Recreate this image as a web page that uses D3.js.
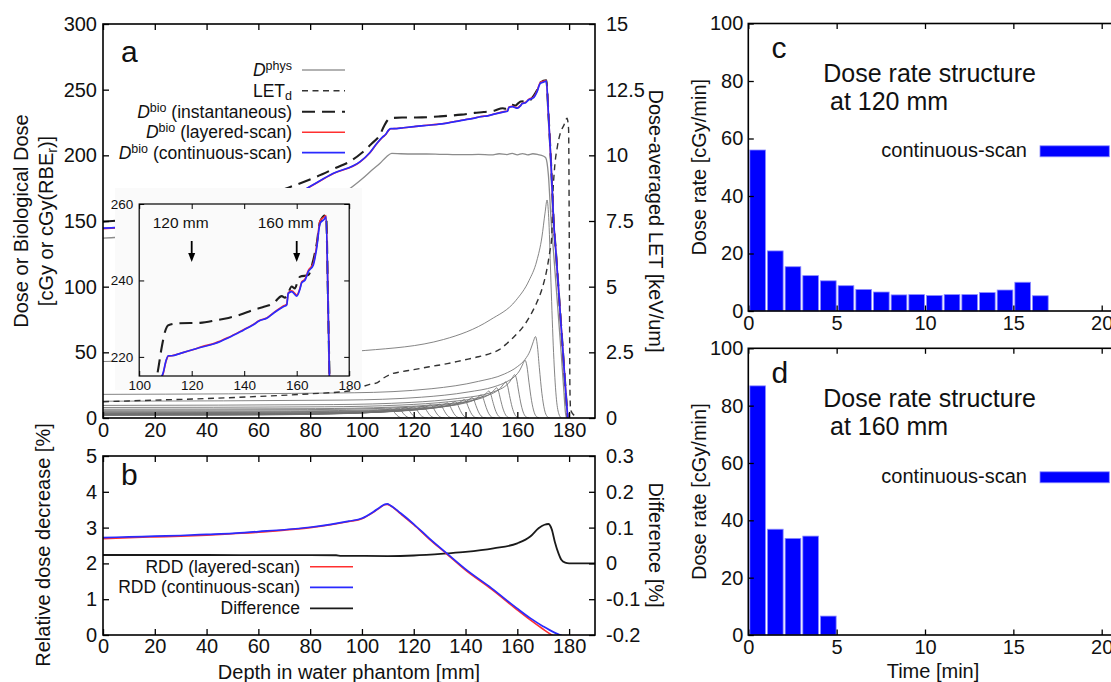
<!DOCTYPE html>
<html><head><meta charset="utf-8">
<script src="https://cdn.jsdelivr.net/npm/d3@7"></script>
<style>
html,body{margin:0;padding:0;background:#fff;}
svg text{font-family:"Liberation Sans",Arial,Helvetica,sans-serif;fill:#111;}
</style></head><body>
<svg id="fig" width="1111" height="682"></svg>
<script>
// ---------- tick values ----------
const depthTicks = [0,20,40,60,80,100,120,140,160,180];
const doseTicks = [0,50,100,150,200,250,300];
const letTicks = [0,2.5,5,7.5,10,12.5,15];
const rddTicks = [0,1,2,3,4,5];
const diffTicks = [-0.2,-0.1,0,0.1,0.2,0.3];
const insetDepthTicks = [100,120,140,160,180];
const insetDoseTicks = [220,240,260];
const rateTicks = [0,20,40,60,80,100];
const timeTicks = [0,5,10,15,20];

// ---------- panel a: depth-dose curves [depth mm, value] ----------
const physDose = [[0,137],[10,138],[20,139.5],[30,141],[40,143],[50,146],[60,150],[70,154.5],[80,160.5],[90,168.5],[95.5,175],[100,182],[104,189],[107,194],[109.5,199],[111.5,201.5],[115,201.2],[120,201],[125,201],[130,200.8],[135,200.6],[140,200.5],[145,200.7],[150,200.4],[153,201.2],[156,200.6],[158,201.5],[160,200.4],[162,201.3],[164,200.4],[166,201.2],[168,200.6],[170,199.5],[171,198],[172,185],[173,152],[174,126],[175,100],[176,74],[177,48],[178,20],[178.6,4],[179,0]];

const letD = [[0,0.62],[20,0.68],[40,0.74],[60,0.82],[80,0.92],[95,1.03],[103,1.28],[106,1.35],[108,1.5],[111.5,1.68],[115,1.76],[120,1.84],[126,1.95],[133,2.07],[139,2.2],[145,2.33],[150,2.47],[153,2.6],[156,2.84],[159,3.12],[162.3,3.48],[165,3.9],[167.4,4.37],[169.5,4.9],[171.3,5.6],[172.5,6.3],[173.3,6.9],[173.7,8.4],[174.3,9.4],[175.5,10.35],[176.6,10.84],[178,11.15],[179.2,11.41],[179.8,11.0],[180.1,6],[180.3,1.2],[180.6,0.3],[182,0.1]];

const bioInstant = [[0,149.5],[10,151],[20,153],[30,155.5],[40,158.5],[50,162.5],[60,167.5],[71,175],[82.6,183.8],[90,190.5],[95.5,195.5],[100,202],[103.9,209.2],[106.9,215.5],[108.6,222.6],[109.8,226.5],[111.1,228.3],[115.5,228.8],[123.2,228.9],[129.5,229.6],[134,230.2],[138.4,231],[143.5,232.3],[147,233],[151.1,234],[154.3,235.9],[155.5,235.5],[156.3,236],[158.1,238.4],[159.3,237.9],[160.3,239.6],[161.3,241],[164.4,241.4],[166.3,245.3],[167.6,249.5],[168.9,255.4],[171.2,257.1],[172,232],[173,195],[174,151],[175,124],[176,96],[177,68],[178,40],[179,12],[179.5,0]];

const bioLayered = [[0,144.2],[10,145.3],[20,146.8],[30,148.8],[40,151.3],[50,154.8],[60,159.3],[70,165.8],[78.8,174.8],[89,186.1],[99.3,195],[103,201.8],[105.8,209],[108,213.8],[109.2,215.8],[110.2,218.8],[111.1,220.2],[112.4,220.3],[116,221],[120,221.8],[124,222.7],[128.9,223.6],[134,225.1],[139.7,227.1],[143,228.3],[146,229.6],[148.6,230.2],[151.5,231.7],[154.9,233.3],[156.2,233.8],[156.8,236.8],[158.1,237.3],[160,236.2],[161.3,238.1],[161.9,239.6],[163.2,240.4],[164.4,242.6],[166.3,244.4],[167.6,249],[168.9,255.6],[170.5,256.6],[171.2,257],[172,232],[173,195],[174,151],[175,124],[176,96],[177,68],[178,40],[179,12],[179.5,0]];

const bioContinuous = [[0,144.5],[10,145.5],[20,147],[30,149],[40,151.5],[50,155],[60,159.5],[70,166],[78.8,175],[89,186.3],[99.3,195.2],[103,202],[105.8,209.2],[108,214],[109.2,216],[110.2,219],[111.1,220.3],[112.4,220.3],[116,221],[120,221.8],[124,222.6],[128.9,223.5],[134,225],[139.7,227],[143,228.2],[146,229.5],[148.6,230.1],[151.5,231.6],[154.9,233.1],[156.2,233.6],[156.8,236.6],[158.1,237.1],[160,235.9],[161.3,237.9],[161.9,239.4],[163.2,240.1],[164.4,242.3],[166.3,244],[167.6,248.4],[168.9,254.9],[170.5,256],[171.2,256.7],[172,232],[173,195],[174,151],[175,124],[176,96],[177,68],[178,40],[179,12],[179.5,0]];

// pristine Bragg peaks of the energy layers: range (mm), peak dose, entrance dose
const layerRange = [111,114,117,120,123.5,126.5,130,133,136,139.5,142.5,146,149,152,155.5,159,163,167,171.5];
const layerPeak = [7,7.5,8,8.5,9,10,10.5,11.5,12.5,14,15.5,17.5,20.5,23,27.5,33,44,62,166];
const layerEntrance = [2.0,2.2,2.3,2.5,2.6,2.9,3.0,3.3,3.6,4.0,4.5,5.1,5.9,6.7,8.0,9.6,12.8,18,43];
// Bragg-peak profile: [offset from range (mm), fraction of peak dose]
const braggShape = [[-70,0.31],[-40,0.36],[-22,0.45],[-12,0.54],[-7,0.63],[-4,0.72],[-2,0.83],[-0.8,0.94],[0,1],[0.7,0.9],[1.5,0.62],[2.5,0.3],[3.5,0.1],[4.5,0.02],[5.5,0]];

// ---------- panel b: relative dose decrease ----------
const rddLayered = [[0,2.69],[10,2.72],[20,2.74],[30,2.76],[40,2.79],[50,2.83],[60,2.87],[70,2.93],[80,3.0],[88,3.08],[95,3.17],[100,3.25],[104.4,3.43],[107,3.56],[108.8,3.64],[109.8,3.65],[111,3.61],[115,3.38],[120,3.08],[126,2.68],[132.8,2.26],[140,1.81],[150,1.28],[159.8,0.71],[165,0.42],[170,0.16],[173.3,0],[177,-0.15]];
const rddContinuous = [[0,2.72],[10,2.74],[20,2.76],[30,2.78],[40,2.81],[50,2.84],[60,2.89],[70,2.94],[80,3.01],[88,3.09],[95,3.18],[100,3.26],[104.4,3.44],[107,3.57],[108.8,3.65],[109.8,3.66],[111,3.62],[115,3.4],[120,3.1],[126,2.7],[132.8,2.28],[140,1.84],[150,1.31],[159.8,0.75],[165,0.47],[170,0.24],[174,0.08],[176.6,0],[180,-0.1]];
const rddDifference = [[0,0.0235],[20,0.0235],[40,0.0235],[60,0.0233],[80,0.0232],[90,0.0228],[92,0.021],[100,0.0208],[110,0.0205],[120,0.022],[133,0.028],[140,0.032],[150.8,0.042],[160,0.056],[165,0.075],[168.2,0.098],[170.5,0.108],[172,0.11],[173.3,0.095],[174.5,0.06],[175.9,0.028],[177,0.01],[178.5,0.002],[180,0],[190,0]];

// ---------- panels c, d: dose-rate histograms (1-min bins) ----------
const rateAt120 = [56.0,20.9,15.4,12.3,10.5,8.8,7.5,6.6,5.6,5.7,5.4,5.7,5.7,6.4,7.3,10.0,5.3];
const rateAt160 = [86.9,36.9,33.7,34.5,6.6];

// ================= drawing =================
const svg = d3.select("#fig");
const FONT = 20;
const plain = d => String(d);

function styleAxis(sel, fs) {
  sel.attr("font-size", fs).attr("font-family", null);
  sel.select(".domain").remove();
  sel.selectAll(".tick line").attr("stroke", "#000").attr("stroke-width", 1.3);
  sel.selectAll(".tick text").attr("fill", "#111");
  return sel;
}
function box(g, x0, y0, x1, y1, w) {
  g.append("rect").attr("x", x0).attr("y", y0).attr("width", x1 - x0).attr("height", y1 - y0)
    .attr("fill", "none").attr("stroke", "#000").attr("stroke-width", w || 1.6);
}
function clip(id, x0, y0, x1, y1) {
  svg.append("clipPath").attr("id", id).append("rect")
    .attr("x", x0).attr("y", y0).attr("width", x1 - x0).attr("height", y1 - y0);
}
function path(g, data, line, stroke, width, dash) {
  const p = g.append("path").datum(data).attr("d", line).attr("fill", "none")
    .attr("stroke", stroke).attr("stroke-width", width).attr("stroke-linejoin", "round");
  if (dash) p.attr("stroke-dasharray", dash);
  return p;
}

// ---------- panel a ----------
const xA = d3.scaleLinear().domain([0, 190]).range([103, 595]);
const yA = d3.scaleLinear().domain([0, 300]).range([418, 24]);
const yA2 = d3.scaleLinear().domain([0, 15]).range([418, 24]);
clip("clipA", 103, 24, 595, 418);

const gA = svg.append("g");
const plotA = gA.append("g").attr("clip-path", "url(#clipA)");
const lineDose = d3.line().x(d => xA(d[0])).y(d => yA(d[1])).curve(d3.curveMonotoneX);
const lineLet = d3.line().x(d => xA(d[0])).y(d => yA2(d[1])).curve(d3.curveMonotoneX);

const layerCurves = layerRange.map((R, i) =>
  [[0, layerEntrance[i]]].concat(braggShape.filter(s => R + s[0] > 0).map(s => [R + s[0], s[1] * layerPeak[i]])));
layerCurves.forEach(c => path(plotA, c, lineDose, "#6f6f6f", 0.85));
path(plotA, physDose, lineDose, "#8c8c8c", 1.3);
path(plotA, letD, lineLet, "#333", 1.4, "6,4.5");
path(plotA, bioInstant, lineDose, "#1e1e1e", 2.1, "13,7");
path(plotA, bioLayered, lineDose, "#ff3030", 1.6);
path(plotA, bioContinuous, lineDose, "#2a2aff", 1.7);

// inset panel (zoom on the SOBP region)
gA.append("rect").attr("x", 115).attr("y", 188).attr("width", 247).attr("height", 202).attr("fill", "#fafafa");
const xI = d3.scaleLinear().domain([100, 180]).range([139.2, 349.2]);
const yI = d3.scaleLinear().domain([215, 260]).range([376, 204]);
clip("clipI", 139.2, 204, 349.2, 376);
const gI = gA.append("g");
const plotI = gI.append("g").attr("clip-path", "url(#clipI)");
const lineInset = d3.line().x(d => xI(d[0])).y(d => yI(d[1])).curve(d3.curveMonotoneX);
path(plotI, bioInstant, lineInset, "#1e1e1e", 2.1, "13,7");
path(plotI, bioLayered, lineInset, "#ff3030", 1.6);
path(plotI, bioContinuous, lineInset, "#2a2aff", 1.7);
box(gI, 139.2, 204, 349.2, 376, 1.2);
styleAxis(gI.append("g").attr("transform", "translate(139.2,0)")
  .call(d3.axisLeft(yI).tickValues(insetDoseTicks).tickSizeInner(-5).tickSizeOuter(0).tickPadding(6).tickFormat(plain)), 13.5);
styleAxis(gI.append("g").attr("transform", "translate(349.2,0)")
  .call(d3.axisRight(yI).tickValues(insetDoseTicks).tickSizeInner(-5).tickSizeOuter(0).tickFormat("")), 13.5);
styleAxis(gI.append("g").attr("transform", "translate(0,376)")
  .call(d3.axisBottom(xI).tickValues(insetDepthTicks).tickSizeInner(-5).tickSizeOuter(0).tickPadding(4).tickFormat(plain)), 13.5);
styleAxis(gI.append("g").attr("transform", "translate(0,204)")
  .call(d3.axisTop(xI).tickValues(insetDepthTicks).tickSizeInner(-5).tickSizeOuter(0).tickFormat("")), 13.5);
gI.selectAll(".tick line").attr("stroke-width", 1);

// depth markers in the inset
[120, 160].forEach(dep => {
  const x = xI(dep);
  gI.append("text").attr("x", x - 11).attr("y", 228).attr("text-anchor", "middle")
    .attr("font-size", 15.5).text(dep + " mm");
  gI.append("line").attr("x1", x).attr("x2", x).attr("y1", 241).attr("y2", 255)
    .attr("stroke", "#000").attr("stroke-width", 1.8);
  gI.append("path").attr("d", `M${x - 3.5},${253}L${x + 3.5},${253}L${x},${262}Z`).attr("fill", "#000");
});

// frame and axes of panel a
box(gA, 103, 24, 595, 418);
styleAxis(gA.append("g").attr("transform", "translate(103,0)")
  .call(d3.axisLeft(yA).tickValues(doseTicks).tickSizeInner(-6).tickSizeOuter(0).tickPadding(6).tickFormat(plain)), FONT);
styleAxis(gA.append("g").attr("transform", "translate(595,0)")
  .call(d3.axisRight(yA2).tickValues(letTicks).tickSizeInner(-6).tickSizeOuter(0).tickPadding(11).tickFormat(plain)), FONT);
styleAxis(gA.append("g").attr("transform", "translate(0,418)")
  .call(d3.axisBottom(xA).tickValues(depthTicks).tickSizeInner(-6).tickSizeOuter(0).tickPadding(5).tickFormat(plain)), FONT);
styleAxis(gA.append("g").attr("transform", "translate(0,24)")
  .call(d3.axisTop(xA).tickValues(depthTicks).tickSizeInner(-6).tickSizeOuter(0).tickFormat("")), FONT);

gA.append("text").attr("x", 121).attr("y", 62).attr("font-size", 30).text("a");

// legend of panel a
const legA = gA.append("g");
const legRows = [
  {cy: 70, stroke: "#999", w: 1.3, dash: null},
  {cy: 90.7, stroke: "#333", w: 1.4, dash: "6,4.5"},
  {cy: 111.7, stroke: "#1e1e1e", w: 2.1, dash: "13,7"},
  {cy: 132.3, stroke: "#ff3030", w: 1.6, dash: null},
  {cy: 152.7, stroke: "#2a2aff", w: 1.7, dash: null}
];
legRows.forEach(r => {
  const l = legA.append("line").attr("x1", 302).attr("x2", 345).attr("y1", r.cy).attr("y2", r.cy)
    .attr("stroke", r.stroke).attr("stroke-width", r.w);
  if (r.dash) l.attr("stroke-dasharray", r.dash);
});
function bioLabel(y, suffix, sup) {
  const t = legA.append("text").attr("x", 292).attr("y", y).attr("text-anchor", "end").attr("font-size", 17.5);
  t.append("tspan").attr("font-style", "italic").text("D");
  t.append("tspan").attr("font-size", 12.5).attr("dy", -6).text(sup);
  if (suffix) t.append("tspan").attr("dy", 6).text(suffix);
}
bioLabel(76, null, "phys");
{
  const t = legA.append("text").attr("x", 292).attr("y", 96.5).attr("text-anchor", "end").attr("font-size", 17.5);
  t.append("tspan").text("LET");
  t.append("tspan").attr("font-size", 12.5).attr("dy", 3.5).text("d");
}
bioLabel(117.7, " (instantaneous)", "bio");
bioLabel(138.3, " (layered-scan)", "bio");
bioLabel(158.7, " (continuous-scan)", "bio");

// axis titles of panel a
{
  gA.append("text").attr("transform", "translate(28,221) rotate(-90)").attr("text-anchor", "middle")
    .attr("font-size", FONT).text("Dose or Biological Dose");
  const t2 = gA.append("text").attr("transform", "translate(53,221) rotate(-90)").attr("text-anchor", "middle").attr("font-size", FONT);
  t2.append("tspan").text("[cGy or cGy(RBE");
  t2.append("tspan").attr("font-size", 14).attr("dy", 4).text("r");
  t2.append("tspan").attr("dy", -4).text(")]");
  gA.append("text").attr("transform", "translate(649,221) rotate(90)").attr("text-anchor", "middle")
    .attr("font-size", FONT).text("Dose-averaged LET [keV/um]");
}

// ---------- panel b ----------
const yB = d3.scaleLinear().domain([0, 5]).range([635, 456]);
const yB2 = d3.scaleLinear().domain([-0.2, 0.3]).range([635, 456]);
clip("clipB", 103, 456, 595, 635);
const gB = svg.append("g");
const plotB = gB.append("g").attr("clip-path", "url(#clipB)");
const lineRdd = d3.line().x(d => xA(d[0])).y(d => yB(d[1])).curve(d3.curveMonotoneX);
const lineDiff = d3.line().x(d => xA(d[0])).y(d => yB2(d[1])).curve(d3.curveMonotoneX);
path(plotB, rddDifference, lineDiff, "#1a1a1a", 1.8);
path(plotB, rddLayered, lineRdd, "#ff3030", 1.6);
path(plotB, rddContinuous, lineRdd, "#2a2aff", 1.7);

box(gB, 103, 456, 595, 635);
styleAxis(gB.append("g").attr("transform", "translate(103,0)")
  .call(d3.axisLeft(yB).tickValues(rddTicks).tickSizeInner(-6).tickSizeOuter(0).tickPadding(6).tickFormat(plain)), FONT);
styleAxis(gB.append("g").attr("transform", "translate(595,0)")
  .call(d3.axisRight(yB2).tickValues(diffTicks).tickSizeInner(-6).tickSizeOuter(0).tickPadding(11)
    .tickFormat(d => Math.abs(d) < 1e-9 ? "0" : d.toFixed(1))), FONT);
styleAxis(gB.append("g").attr("transform", "translate(0,635)")
  .call(d3.axisBottom(xA).tickValues(depthTicks).tickSizeInner(-6).tickSizeOuter(0).tickPadding(4).tickFormat(plain)), FONT);
styleAxis(gB.append("g").attr("transform", "translate(0,456)")
  .call(d3.axisTop(xA).tickValues(depthTicks).tickSizeInner(-6).tickSizeOuter(0).tickFormat("")), FONT);

gB.append("text").attr("x", 121).attr("y", 485).attr("font-size", 30).text("b");
const legB = [
  {cy: 566.7, label: "RDD (layered-scan)", stroke: "#ff3030", w: 1.6},
  {cy: 587.3, label: "RDD (continuous-scan)", stroke: "#2a2aff", w: 1.7},
  {cy: 608.3, label: "Difference", stroke: "#1a1a1a", w: 1.8}
];
legB.forEach(r => {
  gB.append("line").attr("x1", 310).attr("x2", 353).attr("y1", r.cy).attr("y2", r.cy)
    .attr("stroke", r.stroke).attr("stroke-width", r.w);
  gB.append("text").attr("x", 300).attr("y", r.cy + 6).attr("text-anchor", "end").attr("font-size", 17.5).text(r.label);
});
gB.append("text").attr("transform", "translate(50,545) rotate(-90)").attr("text-anchor", "middle")
  .attr("font-size", FONT).text("Relative dose decrease [%]");
gB.append("text").attr("transform", "translate(649,545) rotate(90)").attr("text-anchor", "middle")
  .attr("font-size", FONT).text("Difference [%]");
gB.append("text").attr("x", 349).attr("y", 679).attr("text-anchor", "middle")
  .attr("font-size", FONT).text("Depth in water phantom [mm]");

// ---------- panels c and d ----------
const xC = d3.scaleLinear().domain([0, 21]).range([748.3, 748.3 + 21 * 17.67]);
function ratePanel(top, bottom, rates, letter, depthLabel, offs) {
  const y = d3.scaleLinear().domain([0, 100]).range([bottom, top]);
  const g = svg.append("g");
  const pitch = xC(1) - xC(0);
  g.selectAll("rect.bar").data(rates).enter().append("rect").attr("class", "bar")
    .attr("x", (d, i) => xC(i) + 1.5).attr("width", pitch - 2)
    .attr("y", d => y(d)).attr("height", d => y(0) - y(d))
    .attr("fill", "#0000ff").attr("stroke", "#8a8aff").attr("stroke-width", 0.8);
  box(g, 748.3, top, xC(21), bottom);
  styleAxis(g.append("g").attr("transform", "translate(748.3,0)")
    .call(d3.axisLeft(y).tickValues(rateTicks).tickSizeInner(-5.5).tickSizeOuter(0).tickPadding(5).tickFormat(plain)), FONT);
  styleAxis(g.append("g").attr("transform", `translate(0,${bottom})`)
    .call(d3.axisBottom(xC).tickValues(timeTicks).tickSizeInner(-5.5).tickSizeOuter(0).tickPadding(5).tickFormat(plain)), FONT);
  styleAxis(g.append("g").attr("transform", `translate(0,${top})`)
    .call(d3.axisTop(xC).tickValues(timeTicks).tickSizeInner(-5.5).tickSizeOuter(0).tickFormat("")), FONT);
  g.append("text").attr("x", 771.5).attr("y", top + offs.letter).attr("font-size", 30).text(letter);
  g.append("text").attr("x", 823.3).attr("y", top + offs.title).attr("font-size", 25).text("Dose rate structure");
  g.append("text").attr("x", 830).attr("y", top + offs.title + 28.5).attr("font-size", 25).text("at " + depthLabel);
  g.append("text").attr("x", 1027).attr("y", top + offs.legend).attr("text-anchor", "end").attr("font-size", 20).text("continuous-scan");
  g.append("rect").attr("x", 1040).attr("y", top + offs.legend - 11.5).attr("width", 69.3).attr("height", 11)
    .attr("fill", "#0000ff").attr("stroke", "#8a8aff").attr("stroke-width", 0.8);
  g.append("text").attr("transform", `translate(706,${(top + bottom) / 2}) rotate(-90)`).attr("text-anchor", "middle")
    .attr("font-size", FONT).text("Dose rate [cGy/min]");
  return g;
}
ratePanel(23.5, 311, rateAt120, "c", "120 mm", {letter: 34.5, title: 58.2, legend: 133.8});
const gD = ratePanel(348.3, 635, rateAt160, "d", "160 mm", {letter: 35, title: 58.2, legend: 135});
gD.append("text").attr("x", 933).attr("y", 677.5).attr("text-anchor", "middle").attr("font-size", FONT).text("Time [min]");
</script>
</body></html>
